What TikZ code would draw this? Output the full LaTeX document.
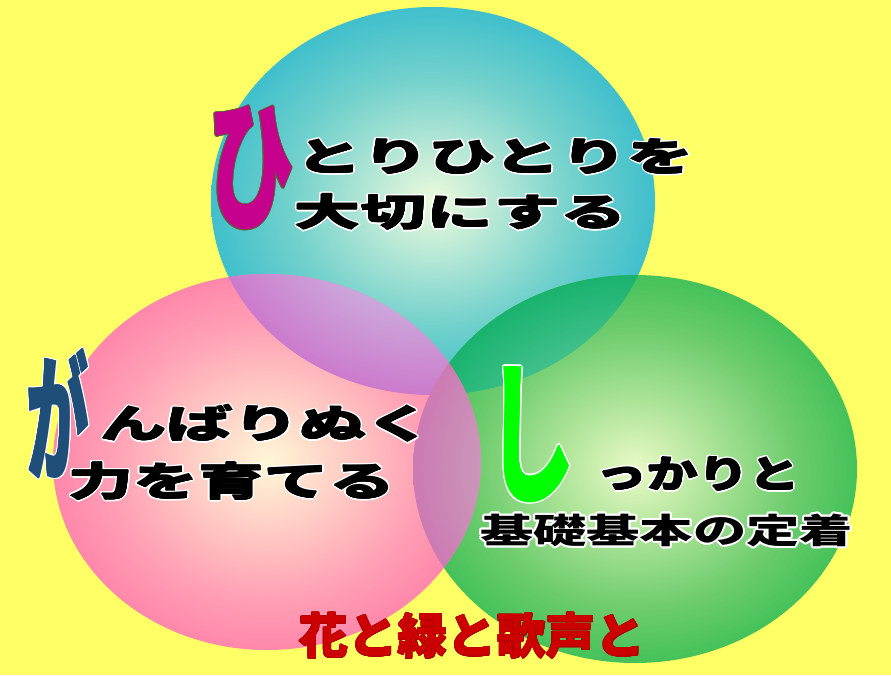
\documentclass[tikz,border=0pt]{standalone}
\usepackage{fontspec}
\usepackage{graphicx}
\newfontfamily\jp{Noto Sans CJK JP}
\definecolor{bgyellow}{RGB}{255,255,102}
\definecolor{hicol}{RGB}{196,0,140}
\definecolor{hiedge}{RGB}{90,100,50}
\definecolor{gacol}{RGB}{31,78,121}
\definecolor{shicol}{RGB}{0,255,0}
\definecolor{redtxt}{RGB}{204,0,0}
\pgfdeclareradialshading{cyanball}{\pgfpoint{0bp}{0bp}}{rgb(0bp)=(0.93,0.98,0.86); rgb(7bp)=(0.72,0.91,0.84); rgb(16bp)=(0.45,0.82,0.80); rgb(25bp)=(0.25,0.75,0.80); rgb(50bp)=(0.25,0.75,0.80)}
\pgfdeclareradialshading{pinkball}{\pgfpoint{0bp}{0bp}}{rgb(0bp)=(1,0.97,0.84); rgb(9bp)=(1,0.80,0.77); rgb(18bp)=(1,0.63,0.71); rgb(25bp)=(1,0.53,0.67); rgb(50bp)=(1,0.53,0.67)}
\pgfdeclareradialshading{greenball}{\pgfpoint{0bp}{0bp}}{rgb(0bp)=(0.92,0.98,0.78); rgb(9bp)=(0.67,0.89,0.59); rgb(18bp)=(0.43,0.80,0.43); rgb(25bp)=(0.27,0.76,0.35); rgb(50bp)=(0.27,0.76,0.35)}
\pgfdeclareradialshading{cyangreen}{\pgfpoint{0bp}{0bp}}{rgb(0bp)=(0.50,0.85,0.70); rgb(14bp)=(0.30,0.77,0.58); rgb(25bp)=(0.10,0.70,0.43); rgb(50bp)=(0.10,0.70,0.43)}
\pgfdeclareradialshading{pinkcyan}{\pgfpoint{0bp}{0bp}}{rgb(0bp)=(0.85,0.78,0.88); rgb(14bp)=(0.80,0.66,0.86); rgb(25bp)=(0.80,0.48,0.80); rgb(50bp)=(0.80,0.48,0.80)}
\pgfdeclareradialshading{pinkgreen}{\pgfpoint{0bp}{0bp}}{rgb(0bp)=(0.82,0.72,0.78); rgb(14bp)=(0.79,0.64,0.74); rgb(25bp)=(0.80,0.48,0.70); rgb(50bp)=(0.80,0.48,0.70)}
\newsavebox\olA
\newsavebox\olB
% [#1 embolden radius] #2 fill colour, #3 outline colour, #4 outline radius, #5 text
\newcommand\outl[5][0pt]{%
  \sbox\olA{\color{#3}#5}\sbox\olB{\color{#2}#5}%
  \leavevmode
  \foreach \a in {0,22.5,...,337.5}{%
    \pgfmathsetlengthmacro\dx{#4*cos(\a)}%
    \pgfmathsetlengthmacro\dy{#4*sin(\a)}%
    \rlap{\kern\dx\raise\dy\copy\olA}}%
  \ifdim#1>0pt
  \foreach \a in {0,90,180,270}{%
    \pgfmathsetlengthmacro\dx{#1*cos(\a)}%
    \pgfmathsetlengthmacro\dy{#1*sin(\a)}%
    \rlap{\kern\dx\raise\dy\copy\olB}}%
  \fi
  \copy\olB}
\newcommand\jt[2]{{\jp\bfseries\fontsize{#1}{#1}\selectfont #2}}
\tikzset{
  txt/.style={inner sep=0pt, outer sep=0pt},
}
\begin{document}
\begin{tikzpicture}[x=1pt,y=-1pt]
\useasboundingbox (0,0) rectangle (891,675);
\fill[bgyellow] (0,0) rectangle (891,675);
% ellipses
\path[shading=cyanball] (433,201) ellipse [x radius=222pt, y radius=194pt];
\path[shading=greenball] (635,469) ellipse [x radius=222pt, y radius=194pt];
\begin{scope}
  \clip (433,201) ellipse [x radius=222pt, y radius=194pt];
  \path[shading=cyangreen] (635,469) ellipse [x radius=222pt, y radius=194pt];
\end{scope}
\path[shading=pinkball] (267,462) ellipse [x radius=214pt, y radius=188pt];
\begin{scope}
  \clip (267,462) ellipse [x radius=214pt, y radius=188pt];
  \path[shading=pinkcyan] (433,201) ellipse [x radius=222pt, y radius=194pt];
  \path[shading=pinkgreen] (635,469) ellipse [x radius=222pt, y radius=194pt];
\end{scope}
% top circle texts
\node[txt, anchor=north west] (hi) at (209,105)
  {\outl[0.6pt]{hicol}{hiedge}{1.2pt}{\resizebox*{85pt}{123pt}{\jt{100}{ひ}}}};
\node[txt, anchor=north west] (top1) at (296,137)
  {\outl[0.5pt]{black}{white}{2pt}{\resizebox*{398pt}{35pt}{\jt{40}{とりひとりを}}}};
\node[txt, anchor=north west] (top2) at (294,192)
  {\outl[0.4pt]{black}{white}{2pt}{\resizebox*{333pt}{36pt}{\jt{40}{大切にする}}}};
% left circle texts
\node[txt, anchor=north west] (ga) at (27,347)
  {\outl[0.6pt]{gacol}{white}{1.5pt}{\resizebox*{62pt}{130pt}{\jt{100}{が}}}};
\node[txt, anchor=north west] (left1) at (100,403)
  {\outl[0.5pt]{black}{white}{2pt}{\resizebox*{333pt}{37pt}{\jt{40}{んばりぬく}}}};
\node[txt, anchor=north west] (left2) at (68,460)
  {\outl[0.4pt]{black}{white}{2pt}{\resizebox*{327pt}{38pt}{\jt{40}{力を育てる}}}};
% right circle texts
\node[txt] (shi) at (531,434.5)
  {\outl[0.6pt]{shicol}{white}{2pt}{\resizebox*{88pt}{135pt}{\jt{100}{し}}}};
\node[txt, anchor=north west] (right1) at (596,455)
  {\outl[0.5pt]{black}{white}{2pt}{\resizebox*{204pt}{34pt}{\jt{40}{っかりと}}}};
\node[txt, anchor=north west] (right2) at (480,512)
  {\outl{black}{white}{2pt}{\resizebox*{373pt}{33pt}{\jt{40}{基礎基本の定着}}}};
% bottom title
\node[txt, anchor=north west] (title) at (299,612)
  {\outl{redtxt}{red!70!black}{0.6pt}{\resizebox*{346pt}{46pt}{\jt{50}{花と緑と歌声と}}}};
\end{tikzpicture}
\end{document}
